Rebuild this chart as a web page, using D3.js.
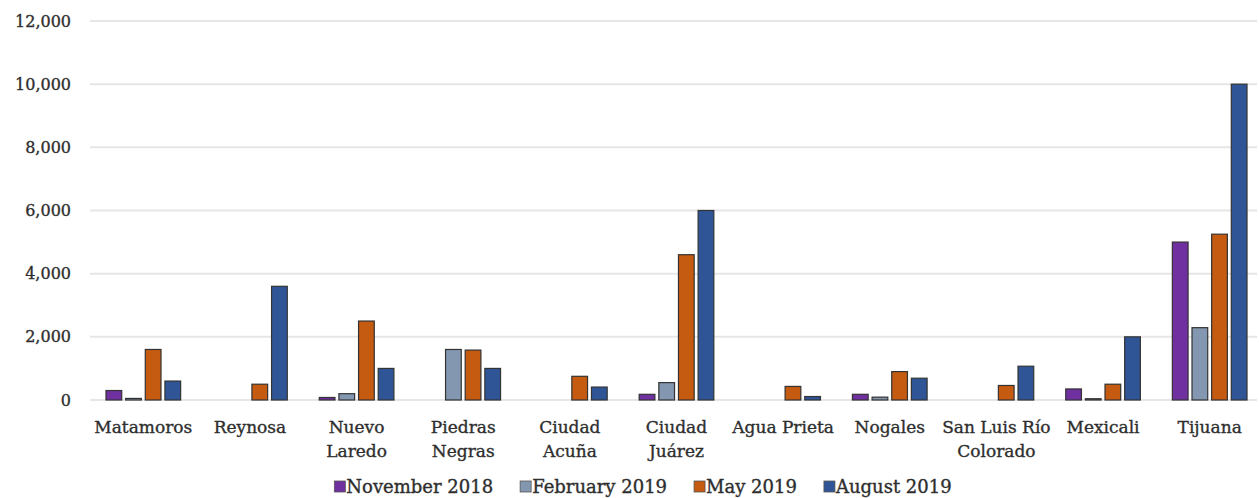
<!DOCTYPE html>
<html>
<head>
<meta charset="utf-8">
<script src="https://cdn.jsdelivr.net/npm/d3@7"></script>
<style>
  body { margin: 0; background: #fff; }
  #chart-container { width: 1259px; height: 498px; }
  text { font-family: "DejaVu Serif", serif; fill: #2e2e2e; stroke: #2e2e2e; stroke-width: 0.35px; }
</style>
</head>
<body>
<div id="chart-container"></div>
<script>
// --- Data ---
const categories = ["Matamoros", "Reynosa", "Nuevo\nLaredo", "Piedras\nNegras", "Ciudad\nAcuña",
    "Ciudad\nJuárez", "Agua Prieta", "Nogales", "San Luis Río\nColorado", "Mexicali", "Tijuana"];
const seriesNames = ["November 2018", "February 2019", "May 2019", "August 2019"];
const nov2018 = [300, 0, 80, 0, 0, 180, 0, 180, 0, 350, 5000];
const feb2019 = [50, 0, 200, 1600, 0, 550, 0, 90, 0, 40, 2290];
const may2019 = [1600, 500, 2500, 1580, 750, 4600, 430, 900, 460, 500, 5250];
const aug2019 = [600, 3600, 1000, 1000, 410, 6000, 110, 690, 1070, 2000, 10000];
const yTicks = [0, 2000, 4000, 6000, 8000, 10000, 12000];

const seriesValues = [nov2018, feb2019, may2019, aug2019];
const colors = ["#7030a0", "#8497b0", "#c55a11", "#2f5597"];

// --- Configuration ---
const width = 1259, height = 498;
const margin = { top: 21, right: -4, bottom: 98, left: 90 };

const svg = d3.select("#chart-container")
    .append("svg")
    .attr("width", width)
    .attr("height", height);

// --- Scales ---
const x0 = d3.scaleBand()
    .domain(categories)
    .range([margin.left, width - margin.right])
    .paddingInner(0.3)
    .paddingOuter(0.15);

const x1 = d3.scaleBand()
    .domain(seriesNames)
    .range([0, x0.bandwidth()])
    .paddingInner(0.2);

const y = d3.scaleLinear()
    .domain([0, 12000])
    .range([height - margin.bottom, margin.top]);

// --- Grid lines ---
svg.append("g")
    .selectAll("line")
    .data(yTicks)
    .enter()
    .append("line")
    .attr("x1", margin.left)
    .attr("x2", width - 2)
    .attr("y1", d => y(d))
    .attr("y2", d => y(d))
    .attr("stroke", "#e6e6e6")
    .attr("stroke-width", 2);

// --- Y axis labels ---
const yAxis = d3.axisLeft(y)
    .tickValues(yTicks)
    .tickFormat(d3.format(","))
    .tickSize(0)
    .tickPadding(0);

const yAxisG = svg.append("g")
    .attr("transform", `translate(71, 0)`)
    .call(yAxis);
yAxisG.select(".domain").remove();
yAxisG.selectAll("text")
    .attr("font-family", "DejaVu Serif")
    .attr("font-size", "16px")
    .attr("fill", "#2e2e2e");

// --- Bars ---
const rows = categories.map((c, i) => ({
    category: c,
    values: seriesNames.map((s, j) => ({ series: s, value: seriesValues[j][i], color: colors[j] }))
}));

svg.append("g")
    .selectAll("g")
    .data(rows)
    .enter()
    .append("g")
    .attr("transform", d => `translate(${x0(d.category)}, 0)`)
    .selectAll("rect")
    .data(d => d.values.filter(v => v.value > 0))
    .enter()
    .append("rect")
    .attr("x", d => x1(d.series))
    .attr("y", d => y(d.value))
    .attr("width", x1.bandwidth())
    .attr("height", d => y(0) - y(d.value))
    .attr("fill", d => d.color)
    .attr("stroke", "#333")
    .attr("stroke-width", 1.2);

// --- Category labels ---
const labelG = svg.append("g");
categories.forEach(c => {
    const t = labelG.append("text")
        .attr("x", x0(c) + x0.bandwidth() / 2)
        .attr("y", 433)
        .attr("text-anchor", "middle")
        .attr("font-size", "17px");
    c.split("\n").forEach((line, k) => {
        t.append("tspan")
            .attr("x", x0(c) + x0.bandwidth() / 2)
            .attr("dy", k === 0 ? 0 : 24)
            .text(line);
    });
});

// --- Legend ---
const legendG = svg.append("g");
let lx = 0;
seriesNames.forEach((s, i) => {
    legendG.append("rect")
        .attr("x", lx).attr("y", 481)
        .attr("width", 11).attr("height", 11)
        .attr("fill", colors[i])
        .attr("stroke", "#555").attr("stroke-width", 0.8);
    const t = legendG.append("text")
        .attr("x", lx + 12).attr("y", 493)
        .attr("font-size", "18px")
        .text(s);
    lx += 12 + t.node().getComputedTextLength() + 27;
});
lx -= 27;
legendG.attr("transform", `translate(${643 - lx / 2}, 0)`);
</script>
</body>
</html>
